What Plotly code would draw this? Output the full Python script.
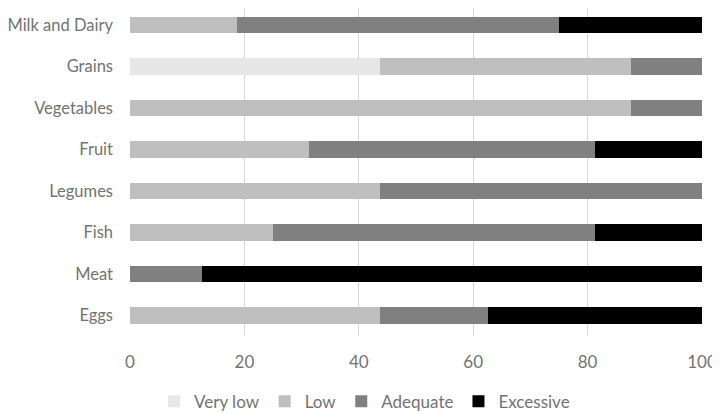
import plotly.graph_objects as go

categories = ["Milk and Dairy", "Grains", "Vegetables", "Fruit", "Legumes", "Fish", "Meat", "Eggs"]
very_low = [0, 43.75, 0, 0, 0, 0, 0, 0]
low = [18.75, 43.75, 87.5, 31.25, 43.75, 25, 0, 43.75]
adequate = [56.25, 12.5, 12.5, 50, 56.25, 56.25, 12.5, 18.75]
excessive = [25, 0, 0, 18.75, 0, 18.75, 87.5, 37.5]

series = [
    ("Very low", very_low, "#e7e7e7"),
    ("Low", low, "#bfbfbf"),
    ("Adequate", adequate, "#808080"),
    ("Excessive", excessive, "#000000"),
]

fig = go.Figure()
for name, vals, color in series:
    fig.add_trace(go.Bar(y=categories, x=vals, name=name, orientation="h",
                         marker=dict(color=color, line=dict(width=0))))

txt = "#737373"
fig.update_layout(
    barmode="stack",
    bargap=0.6,
    width=712, height=406,
    margin=dict(l=122, r=18, t=0, b=78, autoexpand=False),
    plot_bgcolor="white", paper_bgcolor="white",
    font=dict(family="Lato, Open Sans, sans-serif", size=17, color=txt),
    legend=dict(orientation="h", x=0.41, xanchor="center", y=-0.2, yanchor="middle",
                font=dict(size=17, color=txt), traceorder="normal"),
    xaxis=dict(range=[0, 100], dtick=20, showgrid=True, gridcolor="#d9d9d9", gridwidth=1,
               zeroline=False, showline=False, ticks="", ticklabelstandoff=14,
               tickfont=dict(size=17), automargin=False),
    yaxis=dict(range=[7.5, -0.41], showgrid=False, showline=False, ticks="",
               ticklabelstandoff=16, tickfont=dict(size=16.5), automargin=False),
)
fig.write_html("out.html")
